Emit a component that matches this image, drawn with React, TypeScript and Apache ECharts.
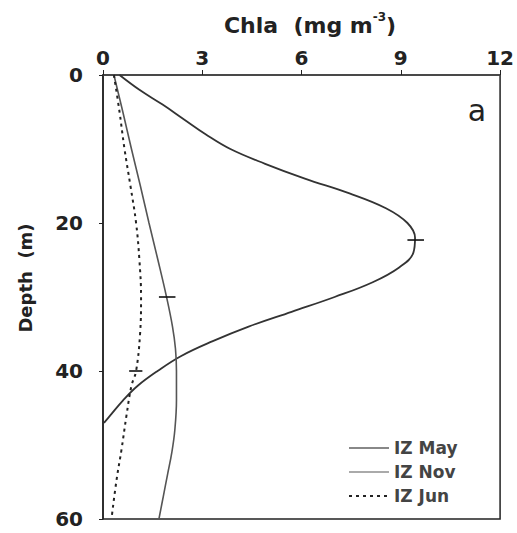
import React, { useEffect, useRef } from "react";
import * as echarts from "echarts";

// Chla (mg m-3) vs depth (m)
const mayChla = [0.5, 1.1, 1.8, 2.45, 3.1, 3.85, 4.9, 6.1, 7.45, 8.55, 9.2, 9.43, 9.38, 8.95, 8.15, 7.0, 5.7, 4.4, 3.3, 2.35, 1.65, 1.05, 0.6, 0.22, 0.03];
const mayDepth = [0, 2, 4, 6, 8, 10, 12, 14, 16, 18, 20, 22, 24, 26, 28, 30, 32, 34, 36, 38, 40, 42, 44, 46, 47];

const novChla = [0.33, 0.6, 0.86, 1.13, 1.39, 1.66, 1.92, 2.1, 2.19, 2.22, 2.22, 2.17, 2.08, 1.95, 1.82, 1.69];
const novDepth = [0, 5, 10, 15, 20, 25, 30, 34, 37, 40, 44, 48, 51, 54, 57, 60];

const junChla = [0.33, 0.5, 0.65, 0.83, 1.0, 1.1, 1.15, 1.12, 1.0, 0.86, 0.71, 0.56, 0.41, 0.27];
const junDepth = [0, 5, 10, 15, 20, 25, 30, 35, 40, 42, 46, 50.6, 54.7, 59.5];

// error bars: [centre chla, depth, half width]
const errCentre = [9.45, 1.94, 0.99];
const errDepth = [22.3, 30, 40];
const errHalf = [0.25, 0.25, 0.2];

const seriesNames = ["IZ May", "IZ Nov", "IZ Jun"];
const legendColors = ["#888", "#aaa", "#222"];
const xTicks = { min: 0, max: 12, interval: 3 };
const yTicks = { min: 0, max: 60, interval: 20 };

const zip = (xs: number[], ys: number[]) => xs.map((x, i) => [x, ys[i]]);

export default function App() {
  const ref = useRef<HTMLDivElement>(null);
  useEffect(() => {
    if (!ref.current) return;
    const chart = echarts.init(ref.current, undefined, { renderer: "svg" });
    const font = "DejaVu Sans";
    chart.setOption({
      animation: false,
      backgroundColor: "#fff",
      title: {
        text: "Chla  (mg m{sup|-3})",
        left: 305,
        top: 6,
        textAlign: "center",
        textStyle: {
          fontFamily: font,
          fontSize: 22,
          fontWeight: "bold",
          color: "#222",
          lineHeight: 28,
          rich: {
            sup: { fontFamily: font, fontSize: 12, fontWeight: "bold", color: "#222", verticalAlign: "top", lineHeight: 14 },
          },
        },
      },
      grid: {
        left: 103,
        right: 9,
        top: 75,
        bottom: 14,
        show: true,
        borderColor: "#222",
        borderWidth: 1.5,
      },
      legend: {
        data: seriesNames.map((n, i) => ({
          name: n,
          lineStyle: { color: legendColors[i] },
        })),
        orient: "vertical",
        left: 343,
        top: 433,
        itemWidth: 40,
        itemHeight: 20,
        itemGap: 4,
        itemStyle: { opacity: 0 },
        textStyle: { fontFamily: font, fontSize: 17, fontWeight: "bold", color: "#444", lineHeight: 20 },
      },
      xAxis: {
        type: "value",
        position: "top",
        min: xTicks.min,
        max: xTicks.max,
        interval: xTicks.interval,
        axisLine: { show: true, lineStyle: { color: "#444", width: 1.5 } },
        axisTick: { show: true, length: 5, lineStyle: { color: "#222" } },
        axisLabel: { fontFamily: font, fontSize: 20, fontWeight: "bold", color: "#222", margin: 7 },
        splitLine: { show: false },
      },
      yAxis: {
        type: "value",
        inverse: true,
        min: yTicks.min,
        max: yTicks.max,
        interval: yTicks.interval,
        axisLine: { show: true, lineStyle: { color: "#222", width: 1.5 } },
        axisTick: { show: true, length: 4, lineStyle: { color: "#222" } },
        axisLabel: { fontFamily: font, fontSize: 20, fontWeight: "bold", color: "#222", margin: 20 },
        splitLine: { show: false },
      },
      graphic: [
        {
          type: "text",
          x: 25,
          y: 278,
          rotation: Math.PI / 2,
          style: {
            text: "Depth  (m)",
            fontFamily: font,
            fontSize: 18,
            fontWeight: "bold",
            fill: "#222",
            textAlign: "center",
            textVerticalAlign: "middle",
          },
        },
        {
          type: "text",
          x: 477,
          y: 110,
          style: {
            text: "a",
            fontFamily: font,
            fontSize: 30,
            fill: "#222",
            textAlign: "center",
            textVerticalAlign: "middle",
          },
        },
      ],
      series: [
        {
          name: seriesNames[0],
          type: "line",
          data: zip(mayChla, mayDepth),
          smooth: 0.4,
          symbol: "none",
          lineStyle: { color: "#333", width: 1.8 },
          itemStyle: { color: "#333" },
        },
        {
          name: seriesNames[1],
          type: "line",
          data: zip(novChla, novDepth),
          smooth: 0.4,
          symbol: "none",
          lineStyle: { color: "#555", width: 1.6 },
          itemStyle: { color: "#555" },
        },
        {
          name: seriesNames[2],
          type: "line",
          data: zip(junChla, junDepth),
          smooth: 0.4,
          symbol: "none",
          lineStyle: { color: "#222", width: 2, type: [3, 4] },
          itemStyle: { color: "#222" },
        },
        {
          name: "err",
          type: "custom",
          data: errCentre.map((c, i) => [c, errDepth[i], errHalf[i]]),
          encode: { x: 0, y: 1 },
          renderItem: (params: any, api: any) => {
            const c = api.value(0);
            const d = api.value(1);
            const h = api.value(2);
            const p1 = api.coord([c - h, d]);
            const p2 = api.coord([c + h, d]);
            return {
              type: "line",
              shape: { x1: p1[0], y1: p1[1], x2: p2[0], y2: p2[1] },
              style: { stroke: "#111", lineWidth: 1.6 },
            };
          },
          z: 5,
        },
      ],
    });
    return () => chart.dispose();
  }, []);
  return (
    <div
      ref={ref}
      style={{ position: "fixed", left: 0, top: 0, width: 517, height: 533 }}
    />
  );
}
